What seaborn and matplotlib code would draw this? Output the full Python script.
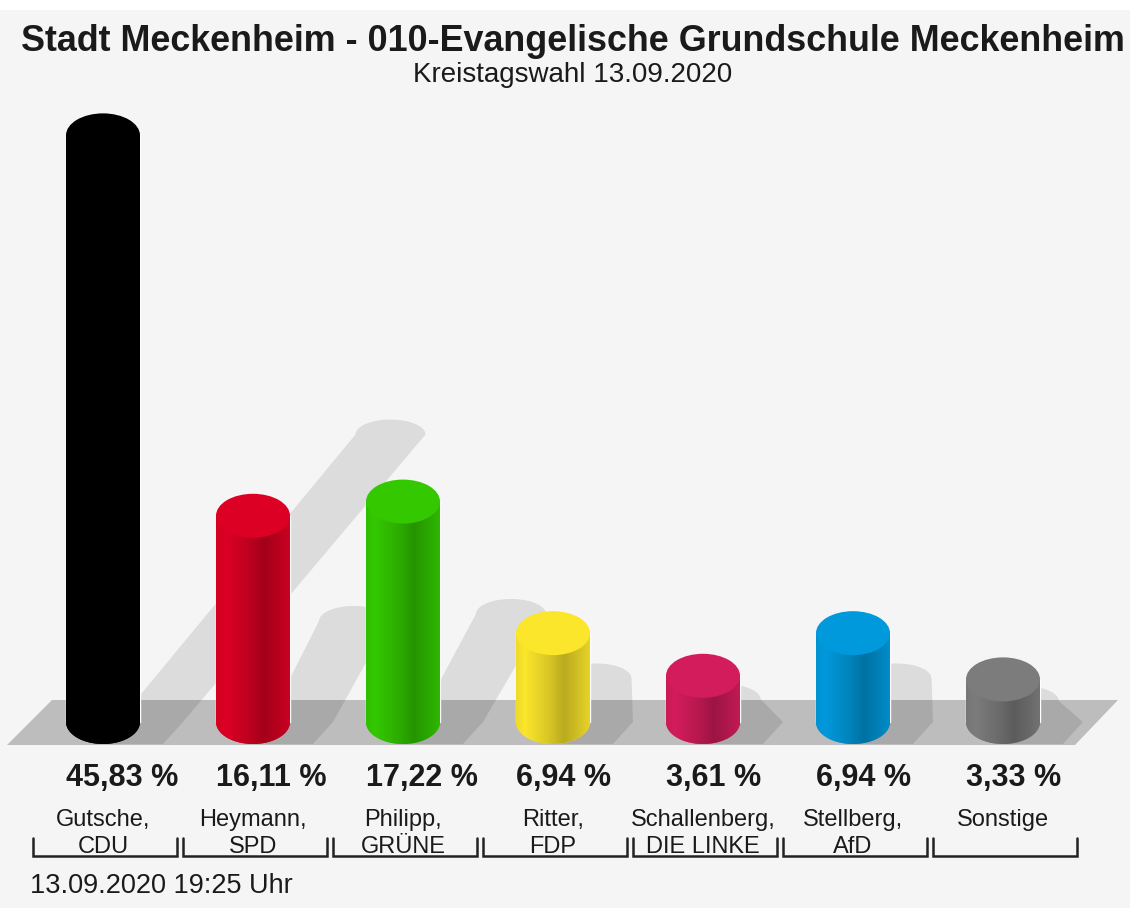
import numpy as np
import pandas as pd
import matplotlib
matplotlib.use("Agg")
import matplotlib.pyplot as plt
import seaborn as sns
from matplotlib.patches import Ellipse, Polygon, Rectangle
from matplotlib.colors import to_rgb

# --- data -------------------------------------------------------------
candidates = ["Gutsche,", "Heymann,", "Philipp,", "Ritter,", "Schallenberg,", "Stellberg,", "Sonstige"]
parties = ["CDU", "SPD", "GRÜNE", "FDP", "DIE LINKE", "AfD", ""]
shares = [45.83, 16.11, 17.22, 6.94, 3.61, 6.94, 3.33]
bar_colors = ["#000000", "#dc0024", "#33c800", "#fbe62b", "#d31c5b", "#0099db", "#7c7c7c"]

TITLE = "Stadt Meckenheim - 010-Evangelische Grundschule Meckenheim"
SUBTITLE = "Kreistagswahl 13.09.2020"
FOOTER = "13.09.2020 19:25 Uhr"

# --- layout (pixels) --------------------------------------------------
W, H, DPI = 1130, 908, 100
BG = "#f5f5f5"
FLOOR = "#bdbdbd"
TXT = "#1a1a1a"
X0_PX, STEP_PX = 103, 150      # centre of first cylinder, spacing
BASE_PX, UNIT_PX = 722, 12.8   # baseline row, pixels per percent


def dx(px):
    return px / STEP_PX


def dy(px):
    return px / UNIT_PX


def fig_y(px):
    return 1 - px / H


sns.set_style("white")
plt.rcParams["font.family"] = ["Liberation Sans", "DejaVu Sans"]

fig = plt.figure(figsize=(W / DPI, H / DPI), dpi=DPI, facecolor=BG)
fig.add_artist(Rectangle((0, fig_y(10)), 1, 10 / H, transform=fig.transFigure,
                         facecolor="white", edgecolor="none", zorder=0))
ax = fig.add_axes([0, 0, 1, 1])
ax.set_facecolor("none")

df = pd.DataFrame({"label": [f"{c} {p}".strip() for c, p in zip(candidates, parties)],
                   "share": shares})
sns.barplot(data=df, x="label", y="share", hue="label", palette=bar_colors,
            legend=False, width=74 / STEP_PX, saturation=1, ax=ax, zorder=3)
bars = sorted(ax.patches, key=lambda p: p.get_x())

n = len(shares)
# floor slab
floor = Polygon([(0 - dx(96), -dy(23)), (0 - dx(51), dy(22)),
                 (n - 1 + dx(115), dy(22)), (n - 1 + dx(72), -dy(23))],
                closed=True, facecolor=FLOOR, edgecolor="none", zorder=1)
ax.add_patch(floor)

cap_b = dy(22)
shade = np.interp(np.linspace(0, 1, 200), [0, 0.12, 0.45, 0.65, 0.85, 1.0],
                  [0.95, 1.0, 0.86, 0.74, 0.84, 0.92])
arc = np.linspace(np.pi, 2 * np.pi, 40)
top_arc = np.linspace(0, np.pi, 40)

for i, p in enumerate(bars):
    x0, w, top = p.get_x(), p.get_width(), p.get_height()
    c = x0 + w / 2
    a = w / 2
    color = to_rgb(bar_colors[i])

    # diagonal shadow behind the cylinder
    rise = 0.49 * top
    sx = c + rise * UNIT_PX / STEP_PX
    sa, sb = dx(35), dy(15)
    verts = [(c - dx(5), -cap_b), (c + dx(60), -cap_b), (c + dx(80), 0)]
    verts += [(sx + sa * np.cos(t), rise + sb * np.sin(t)) for t in top_arc]
    verts += [(c + dx(15), 0)]
    ax.add_patch(Polygon(verts, closed=True, facecolor="black", alpha=0.1,
                         edgecolor="none", zorder=2))

    # cylinder body with rounded bottom
    body_verts = [(x0, top)]
    body_verts += [(c + a * np.cos(t), cap_b * np.sin(t)) for t in arc]
    body_verts += [(x0 + w, top)]
    body = Polygon(body_verts, closed=True, facecolor=color, edgecolor="none", zorder=3.1)
    ax.add_patch(body)
    img = np.clip(np.array(color)[None, None, :] * shade[None, :, None], 0, 1)
    im = ax.imshow(img, extent=(x0, x0 + w, -cap_b, top), aspect="auto",
                   interpolation="bilinear", zorder=3.2)
    im.set_clip_path(body)
    ax.add_patch(Ellipse((c, top), w, 2 * cap_b, facecolor=color,
                         edgecolor="none", zorder=3.3))

    # labels
    pct = f"{shares[i]:.2f}".replace(".", ",") + " %"
    ax.text(x0, -dy(786 - BASE_PX), pct, ha="left", va="baseline",
            fontsize=22, fontweight="bold", color=TXT)
    ax.text(c, -dy(826 - BASE_PX), candidates[i], ha="center", va="baseline",
            fontsize=17, color=TXT)
    if parties[i]:
        ax.text(c, -dy(853 - BASE_PX), parties[i], ha="center", va="baseline",
                fontsize=17, color=TXT)

    # bracket under each label
    yl, yt = -dy(856 - BASE_PX), -dy(838 - BASE_PX)
    bl, br = c - dx(70), c + dx(74)
    ax.plot([bl, bl, br, br], [yt, yl, yl, yt], color="#222222", lw=1.8,
            solid_joinstyle="miter", zorder=4)

ax.set_xlim(-dx(X0_PX), dx(W - X0_PX))
ax.set_ylim(-dy(H - BASE_PX), dy(BASE_PX))
ax.axis("off")

fig.text(573 / W, fig_y(51), TITLE, ha="center", va="baseline",
         fontsize=25.8, fontweight="bold", color=TXT)
fig.text(573 / W, fig_y(82), SUBTITLE, ha="center", va="baseline",
         fontsize=20, color=TXT)
fig.text(30 / W, fig_y(893), FOOTER, ha="left", va="baseline",
         fontsize=19.5, color=TXT)

fig.savefig("out.png", dpi=DPI, facecolor=BG)
